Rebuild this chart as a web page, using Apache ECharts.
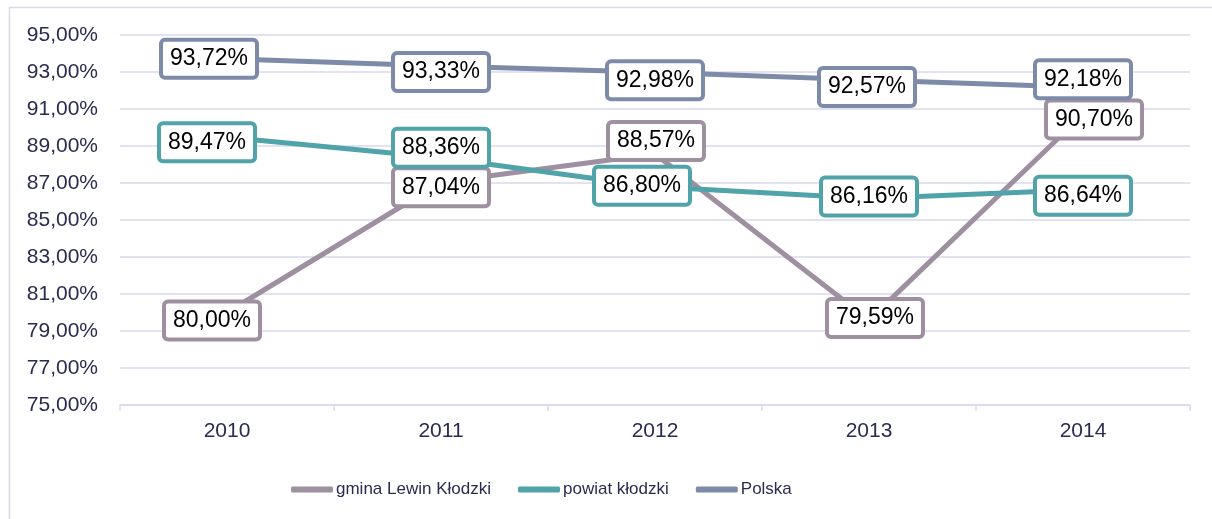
<!DOCTYPE html>
<html>
<head>
<meta charset="utf-8">
<script src="https://cdn.jsdelivr.net/npm/echarts@6/dist/echarts.min.js"></script>
<style>
  html, body { margin: 0; padding: 0; background: #fff; }
  #chart { width: 1212px; height: 519px; }
</style>
</head>
<body>
<div id="chart"></div>
<script>
// lata
const years = ['2010', '2011', '2012', '2013', '2014'];

// wartości w %
const lewin = [80.00, 87.04, 88.57, 79.59, 90.70];
const powiat = [89.47, 88.36, 86.80, 86.16, 86.64];
const polska = [93.72, 93.33, 92.98, 92.57, 92.18];

// przesunięcia etykiet [x, y] jak w oryginale
const lewinOffsets = [[-15, 8], [0, 5], [1, -13], [6, -2], [11, 5]];
const powiatOffsets = [[-20, 5], [0, -10], [-13, -1], [0, -2], [0, 6]];
const polskaOffsets = [[-18, 0], [0, 6], [0, 8], [-2, 7], [0, -8]];

const fmt = v => v.toFixed(2).replace('.', ',') + '%';

const makeSeries = (name, values, offsets, color) => ({
    name,
    type: 'line',
    data: values.map((v, i) => ({ value: v, label: { offset: offsets[i] } })),
    showSymbol: true,
    symbol: 'circle',
    symbolSize: 2,
    lineStyle: { color, width: 5, cap: 'round', join: 'round' },
    itemStyle: { color },
    label: {
        show: true,
        position: 'inside',
        formatter: p => fmt(p.value),
        fontFamily: 'Liberation Sans',
        fontSize: 23,
        lineHeight: 24,
        color: '#000',
        backgroundColor: '#fff',
        borderColor: color,
        borderWidth: 4,
        borderRadius: 2,
        padding: [6, 7, 4, 7]
    },
    emphasis: { disabled: true }
});

const chart = echarts.init(document.getElementById('chart'));

chart.setOption({
    animation: false,
    graphic: [{
        type: 'rect',
        left: 7,
        top: 5,
        shape: { width: 1300, height: 600 },
        style: { fill: 'none', stroke: '#D9D9EC', lineWidth: 1.5 },
        silent: true
    }],
    grid: { left: 120, right: 22, top: 35, bottom: 114 },
    legend: {
        top: 476,
        left: 286,
        itemGap: 27,
        itemWidth: 42,
        itemHeight: 6,
        icon: 'roundRect',
        textStyle: { fontFamily: 'Liberation Sans', fontSize: 17, color: '#2B2B52', padding: [0, 0, 0, -2] },
        data: ['gmina Lewin Kłodzki', 'powiat kłodzki', 'Polska']
    },
    xAxis: {
        type: 'category',
        data: years,
        boundaryGap: true,
        axisLine: { lineStyle: { color: '#D9D9EC', width: 1.5 } },
        axisTick: { show: true, length: 6, lineStyle: { color: '#D9D9EC', width: 1.5 } },
        axisLabel: { fontFamily: 'Liberation Sans', fontSize: 21, color: '#2B2B52', margin: 16 }
    },
    yAxis: {
        type: 'value',
        min: 75,
        max: 95,
        interval: 2,
        axisLine: { show: false },
        axisTick: { show: false },
        splitLine: { lineStyle: { color: '#D9D9EC', width: 1.5 } },
        axisLabel: {
            fontFamily: 'Liberation Sans',
            fontSize: 21,
            color: '#2B2B52',
            margin: 22,
            formatter: v => fmt(v)
        }
    },
    series: [
        makeSeries('gmina Lewin Kłodzki', lewin, lewinOffsets, '#9E90A0'),
        makeSeries('powiat kłodzki', powiat, powiatOffsets, '#4FA3A9'),
        makeSeries('Polska', polska, polskaOffsets, '#7D8BA8')
    ]
});
</script>
</body>
</html>
